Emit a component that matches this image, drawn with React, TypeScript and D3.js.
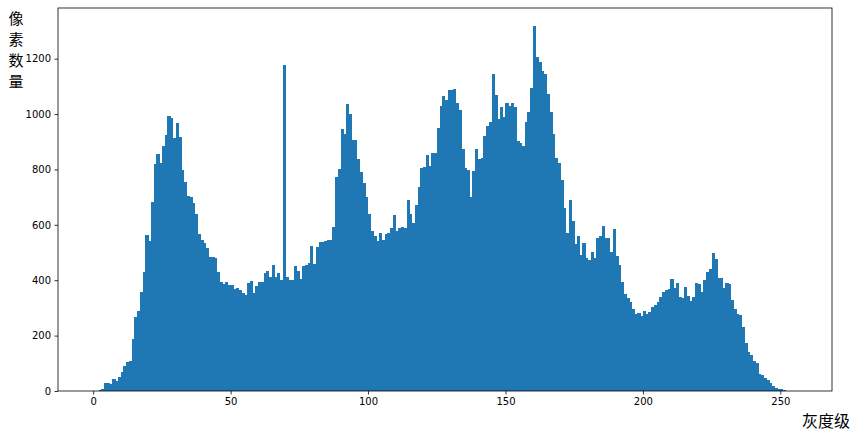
import React, { useEffect, useRef } from "react";
import * as d3 from "d3";

// pixel counts for gray levels 0..255
const pixelCounts = [
  0, 0, 3, 8, 28, 30, 27, 42, 37, 52, 70, 92, 106, 110, 189, 266,
  290, 357, 430, 563, 542, 681, 820, 855, 823, 883, 925, 994, 985, 913, 967, 917,
  799, 756, 705, 700, 678, 640, 567, 546, 534, 516, 485, 483, 480, 429, 392, 386,
  395, 383, 383, 367, 371, 365, 355, 347, 389, 398, 353, 379, 395, 395, 425, 435,
  410, 455, 410, 425, 399, 1176, 413, 401, 399, 451, 433, 405, 451, 455, 463, 525,
  459, 519, 537, 537, 540, 546, 546, 592, 772, 802, 947, 928, 1035, 1001, 905, 905,
  838, 790, 752, 700, 640, 579, 561, 540, 570, 546, 567, 570, 588, 636, 579, 588,
  592, 588, 690, 640, 606, 672, 738, 805, 807, 853, 813, 859, 861, 949, 1030, 1066,
  1049, 1085, 1088, 1090, 1040, 1013, 874, 805, 799, 702, 796, 874, 837, 841, 919, 955,
  973, 1146, 1070, 983, 1025, 989, 1040, 1030, 1040, 1025, 901, 897, 883, 970, 1009, 1094,
  1317, 1206, 1188, 1154, 1146, 1073, 1006, 928, 843, 825, 763, 660, 570, 690, 612, 531,
  558, 491, 536, 480, 473, 503, 480, 552, 560, 596, 552, 552, 503, 584, 488, 455,
  392, 351, 335, 323, 295, 277, 283, 271, 290, 278, 287, 305, 311, 323, 341, 357,
  365, 370, 405, 371, 389, 341, 337, 377, 343, 325, 338, 389, 386, 359, 401, 428,
  440, 500, 477, 407, 407, 371, 389, 385, 329, 296, 278, 275, 232, 172, 142, 130,
  108, 102, 61, 58, 46, 40, 28, 18, 12, 8, 6, 4, 1, 0, 0, 0,
];

const xTickValues = [0, 50, 100, 150, 200, 250];
const yTickValues = [0, 200, 400, 600, 800, 1000, 1200];
const yLabelChars = ["像", "素", "数", "量"];
const xLabelText = "灰度级";

const App: React.FC = () => {
  const svgRef = useRef<SVGSVGElement>(null);

  useEffect(() => {
    if (!svgRef.current) return;
    const svg = d3.select(svgRef.current);
    svg.selectAll("*").remove();

    const margin = { top: 8, right: 33, bottom: 48, left: 58 };
    const width = 865 - margin.left - margin.right;
    const height = 439 - margin.top - margin.bottom;

    const g = svg
      .append("g")
      .attr("transform", `translate(${margin.left},${margin.top})`);

    // matplotlib style 5% padding around the bins 0..256
    const x = d3.scaleLinear().domain([-12.8, 268.8]).range([0, width]);
    const yMax = (d3.max(pixelCounts) as number) * 1.05;
    const y = d3.scaleLinear().domain([0, yMax]).range([height, 0]);

    // crisp edges + slight overlap so neighbouring bars don't show seams
    const barW = x(1) - x(0);
    g.append("g")
      .attr("shape-rendering", "crispEdges")
      .selectAll("rect")
      .data(pixelCounts)
      .join("rect")
      .attr("x", (_, i) => x(i))
      .attr("width", barW + 0.4)
      .attr("y", (d) => y(d))
      .attr("height", (d) => height - y(d))
      .attr("fill", "#1f77b4");

    const font = "'DejaVu Sans', sans-serif";

    const xAxis = g
      .append("g")
      .attr("transform", `translate(0,${height})`)
      .call(
        d3
          .axisBottom(x)
          .tickValues(xTickValues)
          .tickFormat(d3.format("d"))
          .tickSize(3.5)
          .tickPadding(3.5)
      );
    const yAxis = g.append("g").call(
      d3
        .axisLeft(y)
        .tickValues(yTickValues)
        .tickFormat(d3.format("d"))
        .tickSize(3.5)
        .tickPadding(3.5)
    );

    [xAxis, yAxis].forEach((ax) => {
      ax.select(".domain").remove();
      ax.selectAll("line").attr("stroke", "#000").attr("stroke-width", 0.8);
      ax.selectAll("text")
        .attr("fill", "#000")
        .style("font-family", font)
        .style("font-size", "10px");
    });

    // frame around the plot
    g.append("rect")
      .attr("width", width)
      .attr("height", height)
      .attr("fill", "none")
      .attr("stroke", "#000")
      .attr("stroke-width", 0.8);

    const cjk = "'Noto Sans CJK SC', sans-serif";

    svg
      .append("g")
      .selectAll("text")
      .data(yLabelChars)
      .join("text")
      .attr("x", 16)
      .attr("y", (_, i) => 17 + i * 21)
      .attr("text-anchor", "middle")
      .attr("dominant-baseline", "central")
      .style("font-family", cjk)
      .style("font-size", "15px")
      .text((d) => d);

    svg
      .append("text")
      .attr("x", 826)
      .attr("y", 420)
      .attr("text-anchor", "middle")
      .attr("dominant-baseline", "central")
      .style("font-family", cjk)
      .style("font-size", "16px")
      .text(xLabelText);
  }, []);

  return (
    <svg
      ref={svgRef}
      width={865}
      height={439}
      style={{ position: "absolute", left: 0, top: 0, background: "#fff" }}
    />
  );
};

export default App;
